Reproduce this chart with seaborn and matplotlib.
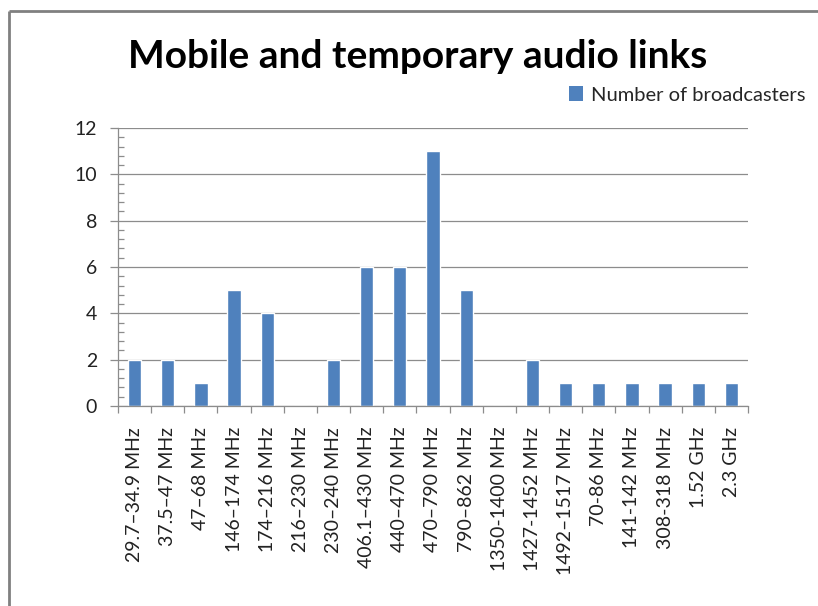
import numpy as np
import pandas as pd
import matplotlib
matplotlib.use("Agg")
import matplotlib.pyplot as plt
import seaborn as sns
from matplotlib.patches import Patch
from matplotlib.lines import Line2D

categories = ["29.7–34.9 MHz", "37.5–47 MHz", "47–68 MHz", "146–174 MHz", "174–216 MHz",
              "216–230 MHz", "230–240 MHz", "406.1–430 MHz", "440–470 MHz", "470–790 MHz",
              "790–862 MHz", "1350-1400 MHz", "1427-1452 MHz", "1492–1517 MHz", "70-86 MHz",
              "141-142 MHz", "308-318 MHz", "1.52 GHz", "2.3 GHz"]
values = [2, 2, 1, 5, 4, 0, 2, 6, 6, 11, 5, 0, 2, 1, 1, 1, 1, 1, 1]
y_ticks = [0, 2, 4, 6, 8, 10, 12]
series_name = "Number of broadcasters"
title = "Mobile and temporary audio links"

sns.set_theme(style="white")
plt.rcParams['font.family'] = ['Lato', 'DejaVu Sans']

df = pd.DataFrame({"cat": categories, "val": values})

fig = plt.figure(figsize=(8.18, 6.06), dpi=100)
ax = fig.add_axes([118/818, 1-406/606, (748-118)/818, (406-128)/606])

sns.barplot(data=df, x="cat", y="val", color="#4F81BD", width=0.4, ax=ax, saturation=1)

ax.set_ylim(0, 12)
ax.set_xlim(-0.5, len(categories) - 0.5)
ax.set_yticks(y_ticks)
ax.set_yticks(np.arange(0, 12.01, 0.4), minor=True)
ax.yaxis.grid(True, which='major', color='#8c8c8c', linewidth=0.9)
ax.set_axisbelow(True)
ax.set_xlabel("")
ax.set_ylabel("")

for s in ["top", "right"]:
    ax.spines[s].set_visible(False)
for s in ["left", "bottom"]:
    ax.spines[s].set_color('#8c8c8c')
    ax.spines[s].set_linewidth(0.9)

ax.set_xticks(np.arange(len(categories)))
ax.set_xticklabels(categories, rotation=90, fontsize=14, color='#222222')
ax.set_xticks(np.arange(-0.5, len(categories), 1), minor=True)
ax.tick_params(axis='x', which='major', length=0, pad=15)
ax.tick_params(axis='x', which='minor', length=5, color='#8c8c8c', width=0.9, direction='out', bottom=True)
ax.tick_params(axis='y', which='major', length=6, color='#8c8c8c', width=0.9, direction='out', left=True, pad=9, labelsize=14, labelcolor='#222222')
ax.tick_params(axis='y', which='minor', length=4, color='#8c8c8c', width=0.9, direction='in', left=True)

fig.text(418/818, 1-57/606, title, ha='center', va='center', fontsize=28, fontweight='bold', color='black')

handles = [Patch(facecolor="#4F81BD", edgecolor="none", label=series_name)]
fig.legend(handles=handles, loc='center right', bbox_to_anchor=(814/818, 1-95/606), frameon=False,
           fontsize=14.5, handlelength=0.7, handleheight=0.7, handletextpad=0.4, borderaxespad=0)

x0 = 9/818
y0 = 1 - 11/606
fig.add_artist(Line2D([x0, x0], [0, y0], transform=fig.transFigure, color='#808080', linewidth=2,
                      solid_capstyle='butt'))
fig.add_artist(Line2D([x0, 1.05], [y0, y0], transform=fig.transFigure, color='#808080', linewidth=2,
                      solid_capstyle='butt'))

fig.savefig("out.png", dpi=100, facecolor='white')
